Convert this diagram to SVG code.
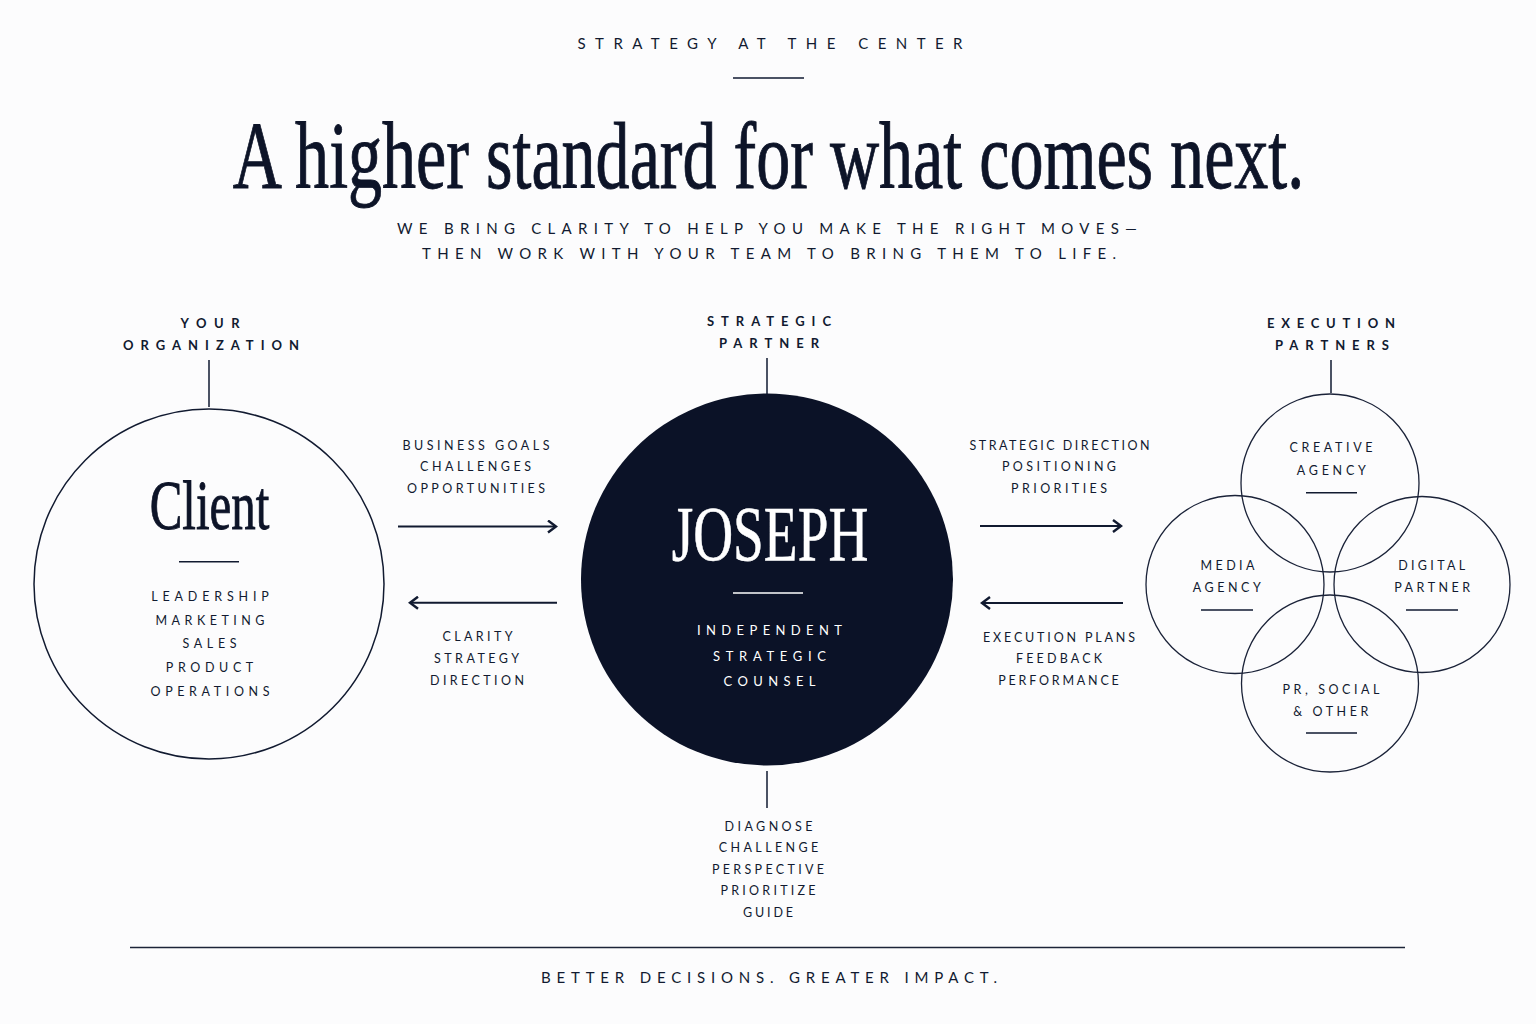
<svg xmlns="http://www.w3.org/2000/svg" width="1536" height="1024" viewBox="0 0 1536 1024">
<defs>
<style>
.bg{fill:#fcfcfd}
.sm{font-family:Lato,"Liberation Sans","DejaVu Sans",sans-serif;font-size:12.5px;fill:#111a30;text-anchor:middle}
.lab{font-family:Lato,"Liberation Sans","DejaVu Sans",sans-serif;font-size:13px;font-weight:700;fill:#111a30;text-anchor:middle}
.hdr{font-family:Lato,"Liberation Sans","DejaVu Sans",sans-serif;font-size:15px;fill:#111a30;text-anchor:middle}
.wt{font-family:Lato,"Liberation Sans","DejaVu Sans",sans-serif;font-size:13px;fill:#ffffff;text-anchor:middle}
.serif{font-family:"Liberation Serif","DejaVu Serif",serif;fill:#0d1428;stroke:#0d1428;text-anchor:middle}
.ring{fill:none;stroke:#111a30;stroke-width:1.5}
.venn{fill:none;stroke:#1a2238;stroke-width:1.3}
.rule{stroke:#111a30;stroke-width:1.5}
.wrule{stroke:#ffffff;stroke-width:1.5}
.conn{stroke:#111a30;stroke-width:2;fill:none}
.tick{stroke:#111a30;stroke-width:1.5}
</style>
<marker id="chev" viewBox="0 0 12 14" refX="10" refY="7" markerWidth="12" markerHeight="14" markerUnits="userSpaceOnUse" orient="auto">
<path d="M2,1 L10,7 L2,13" fill="none" stroke="#111a30" stroke-width="2.4"/>
</marker>
</defs>
<rect class="bg" x="0" y="0" width="1536" height="1024"/>

<g id="header">
<text class="hdr" x="770" y="48.5" textLength="385" lengthAdjust="spacing">STRATEGY AT THE CENTER</text>
<line class="rule" x1="733" y1="78" x2="804" y2="78"/>
<text class="serif" transform="translate(768.5,188) scale(0.709,1)" x="0" y="0" font-size="96" stroke-width="0.9">A higher standard for what comes next.</text>
<text class="hdr" x="767" y="234" font-size="14" textLength="740" lengthAdjust="spacing">WE BRING CLARITY TO HELP YOU MAKE THE RIGHT MOVES—</text>
<text class="hdr" x="769" y="259" font-size="14" textLength="694" lengthAdjust="spacing">THEN WORK WITH YOUR TEAM TO BRING THEM TO LIFE.</text>
</g>

<g id="connectors">
<line class="tick" x1="209" y1="360" x2="209" y2="407"/>
<line class="tick" x1="767" y1="358" x2="767" y2="394"/>
<line class="tick" x1="767" y1="771" x2="767" y2="808"/>
<line class="tick" x1="1331" y1="360" x2="1331" y2="393"/>
<line class="conn" x1="398" y1="526.5" x2="556" y2="526.5" marker-end="url(#chev)"/>
<line class="conn" x1="557" y1="602.7" x2="410" y2="602.7" marker-end="url(#chev)"/>
<line class="conn" x1="980" y1="526" x2="1121" y2="526" marker-end="url(#chev)"/>
<line class="conn" x1="1123" y1="603" x2="982" y2="603" marker-end="url(#chev)"/>
</g>

<g id="client">
<text class="lab" x="210" y="327.5" textLength="59" lengthAdjust="spacing">YOUR</text>
<text class="lab" x="211" y="349.5" textLength="176" lengthAdjust="spacing">ORGANIZATION</text>
<circle class="ring" cx="209" cy="584" r="175"/>
<text class="serif" transform="translate(209.5,529) scale(0.7,1)" x="0" y="0" font-size="70" stroke-width="0.9">Client</text>
<line class="rule" x1="179" y1="561.7" x2="239" y2="561.7"/>
<text class="sm" x="210" y="600.5" textLength="117.5" lengthAdjust="spacing">LEADERSHIP</text>
<text class="sm" x="210" y="624.5" textLength="109" lengthAdjust="spacing">MARKETING</text>
<text class="sm" x="209.5" y="648" textLength="54" lengthAdjust="spacing">SALES</text>
<text class="sm" x="209.5" y="671.5" textLength="87.5" lengthAdjust="spacing">PRODUCT</text>
<text class="sm" x="210" y="695.5" textLength="119" lengthAdjust="spacing">OPERATIONS</text>
</g>

<g id="flow-client-labels">
<text class="sm" x="476" y="449.5" textLength="147" lengthAdjust="spacing">BUSINESS GOALS</text>
<text class="sm" x="475.5" y="470.5" textLength="111" lengthAdjust="spacing">CHALLENGES</text>
<text class="sm" x="476" y="492.5" textLength="138" lengthAdjust="spacing">OPPORTUNITIES</text>
<text class="sm" x="477.5" y="641" textLength="70" lengthAdjust="spacing">CLARITY</text>
<text class="sm" x="476.5" y="662.5" textLength="85" lengthAdjust="spacing">STRATEGY</text>
<text class="sm" x="477" y="684.5" textLength="94" lengthAdjust="spacing">DIRECTION</text>
</g>

<g id="joseph">
<text class="lab" x="769" y="325.5" textLength="124" lengthAdjust="spacing">STRATEGIC</text>
<text class="lab" x="769" y="347.5" textLength="100" lengthAdjust="spacing">PARTNER</text>
<circle cx="767" cy="579.5" r="186" fill="#0b1227"/>
<text class="serif" transform="translate(770,560) scale(0.7,1)" x="0" y="0" font-size="79" style="fill:#ffffff;stroke:#ffffff" stroke-width="0.6">JOSEPH</text>
<line class="wrule" x1="733" y1="593" x2="803" y2="593"/>
<text class="wt" x="769.5" y="635" textLength="145" lengthAdjust="spacing">INDEPENDENT</text>
<text class="wt" x="769.5" y="660.5" textLength="113" lengthAdjust="spacing">STRATEGIC</text>
<text class="wt" x="769.5" y="686" textLength="92" lengthAdjust="spacing">COUNSEL</text>
<text class="sm" x="768.5" y="831" textLength="88" lengthAdjust="spacing">DIAGNOSE</text>
<text class="sm" x="768.5" y="852.3" textLength="99.5" lengthAdjust="spacing">CHALLENGE</text>
<text class="sm" x="768" y="873.5" textLength="112" lengthAdjust="spacing">PERSPECTIVE</text>
<text class="sm" x="768" y="895" textLength="95" lengthAdjust="spacing">PRIORITIZE</text>
<text class="sm" x="768" y="916.5" textLength="50" lengthAdjust="spacing">GUIDE</text>
</g>

<g id="flow-partner-labels">
<text class="sm" x="1059.5" y="449.5" textLength="180" lengthAdjust="spacing">STRATEGIC DIRECTION</text>
<text class="sm" x="1059" y="470.5" textLength="114" lengthAdjust="spacing">POSITIONING</text>
<text class="sm" x="1059" y="492.5" textLength="96" lengthAdjust="spacing">PRIORITIES</text>
<text class="sm" x="1059" y="641.5" textLength="152" lengthAdjust="spacing">EXECUTION PLANS</text>
<text class="sm" x="1059" y="662.5" textLength="86" lengthAdjust="spacing">FEEDBACK</text>
<text class="sm" x="1058.5" y="684.5" textLength="120.5" lengthAdjust="spacing">PERFORMANCE</text>
</g>

<g id="execution-partners">
<text class="lab" x="1331" y="327.5" textLength="128" lengthAdjust="spacing">EXECUTION</text>
<text class="lab" x="1332" y="349.5" textLength="114" lengthAdjust="spacing">PARTNERS</text>
</g>

<g id="creative-agency">
<circle class="venn" cx="1330" cy="483" r="89"/>
<text class="sm" x="1331" y="452.2" textLength="83" lengthAdjust="spacing">CREATIVE</text>
<text class="sm" x="1331.3" y="475.2" textLength="69" lengthAdjust="spacing">AGENCY</text>
<line class="rule" x1="1306" y1="492.7" x2="1357" y2="492.7"/>
</g>

<g id="media-agency">
<circle class="venn" cx="1235" cy="584.5" r="89"/>
<text class="sm" x="1227.5" y="570.2" textLength="54" lengthAdjust="spacing">MEDIA</text>
<text class="sm" x="1226.7" y="591.8" textLength="68" lengthAdjust="spacing">AGENCY</text>
<line class="rule" x1="1201" y1="610" x2="1253" y2="610"/>
</g>

<g id="digital-partner">
<circle class="venn" cx="1422" cy="584.5" r="88"/>
<text class="sm" x="1431.7" y="570.2" textLength="67" lengthAdjust="spacing">DIGITAL</text>
<text class="sm" x="1432.2" y="591.8" textLength="76" lengthAdjust="spacing">PARTNER</text>
<line class="rule" x1="1406" y1="610" x2="1458" y2="610"/>
</g>

<g id="pr-social-other">
<circle class="venn" cx="1330" cy="683.5" r="88.5"/>
<text class="sm" x="1331" y="693.5" textLength="97" lengthAdjust="spacing">PR, SOCIAL</text>
<text class="sm" x="1330.8" y="716.2" textLength="75" lengthAdjust="spacing">&amp; OTHER</text>
<line class="rule" x1="1306" y1="733" x2="1357" y2="733"/>
</g>

<g id="footer">
<line x1="130" y1="947.5" x2="1405" y2="947.5" stroke="#1c2438" stroke-width="1.6"/>
<text class="hdr" x="769" y="982.5" textLength="456" lengthAdjust="spacing">BETTER DECISIONS. GREATER IMPACT.</text>
</g>
</svg>
